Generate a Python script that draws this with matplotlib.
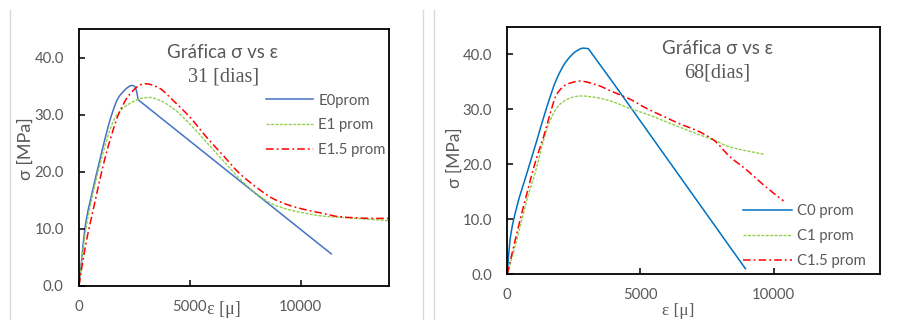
import numpy as np
import matplotlib
matplotlib.use("Agg")
import matplotlib.pyplot as plt
from matplotlib.lines import Line2D
from matplotlib.path import Path
from matplotlib.patches import PathPatch

W, H = 899, 320
DPI = 100

# ---- 31-day series (strain in micro-strain, stress in MPa) ----
e0_x = [0, 120, 269, 644, 943, 1168, 1467, 1766, 2066, 2250, 2365, 2450, 2515, 2600, 2665, 11400]
e0_y = [0, 4.5, 10.1, 17.2, 22.1, 25.7, 29.9, 32.9, 34.3, 34.9, 35.1, 35.05, 34.9, 34.0, 32.6, 5.5]
e0_breaks = [14]

e1_x = [0, 269, 719, 1018, 1317, 1617, 2066, 2515, 2740, 3190, 3639, 4237, 4987, 5736, 6484,
        7233, 7982, 8731, 9479, 10228, 10975, 11725, 12475, 13222, 13970]
e1_y = [0, 8.9, 17.7, 22.3, 26.4, 29.4, 31.4, 32.4, 32.8, 33.0, 32.5, 31.1, 28.4, 25.2, 22.0,
        18.8, 16.2, 14.3, 13.3, 12.7, 12.2, 12.0, 11.8, 11.6, 11.4]

e15_x = [0, 269, 719, 1168, 1467, 1766, 2216, 2515, 2740, 3039, 3190, 3639, 4237, 4987, 5736, 6484,
         7233, 7982, 8731, 9479, 10228, 10975, 11725, 12475, 13222, 13970]
e15_y = [0, 6.5, 14.7, 22.3, 26.4, 29.9, 33.2, 34.5, 35.2, 35.4, 35.3, 34.6, 32.5, 29.6, 26.1, 22.9,
         19.7, 17.3, 15.3, 14.1, 13.3, 12.7, 12.1, 11.9, 11.8, 11.8]

# ---- 68-day series ----
c0_x = [0, 100, 351, 727, 1103, 1479, 1855, 2231, 2607, 2850, 3045, 4049, 8962]
c0_y = [0, 6.1, 12.1, 18.2, 24.2, 30.3, 35.5, 38.8, 40.6, 41.1, 41.0, 34.3, 0.85]
c0_breaks = [10, 11]

c1_x = [0, 351, 727, 1103, 1353, 1604, 1980, 2481, 2733, 3360, 3985, 4613, 5241, 5865, 6492,
        7120, 7744, 8372, 9000, 9624]
c1_y = [0, 6.1, 13.3, 19.4, 24.2, 27.9, 30.9, 32.2, 32.4, 32.1, 31.3, 30.1, 29.1, 27.9, 26.7,
        25.5, 24.4, 23.1, 22.4, 21.8]

c15_x = [0, 351, 727, 1103, 1353, 1604, 1855, 2231, 2733, 3360, 3985, 4613, 5241, 5865, 6492,
         7120, 7744, 8372, 9000, 9624, 10376]
c15_y = [0, 7.3, 14.5, 21.2, 24.8, 29.1, 32.7, 34.5, 35.1, 34.4, 33.1, 31.8, 30.1, 28.7, 27.3,
         26.1, 24.4, 21.3, 18.9, 16.2, 13.3]

x_ticks = [0, 5000, 10000]
y_ticks = [0, 10, 20, 30, 40]
y_tick_labels = ["0.0", "10.0", "20.0", "30.0", "40.0"]
x_lim = (0, 14000)
y_lim = (0, 45)

GRAY = "#595959"
SANS = ["Lato", "DejaVu Sans"]
SERIF = ["Liberation Serif", "DejaVu Serif"]
GREEN = "#92D050"
RED = "#FF0000"
GREEN_DASH = (2.2, 1.0)
RED_DASH = (5, 2, 1.2, 2)

plt.rcParams["font.family"] = SANS

fig = plt.figure(figsize=(W / DPI, H / DPI), dpi=DPI)


def fx(px):
    return px / W


def fy(py):
    return 1 - py / H


def pchip_slopes(x, y):
    """Shape-preserving slopes (Fritsch-Carlson) for a monotone-x piece."""
    n = len(x)
    h = np.diff(x)
    d = np.diff(y) / h
    if n == 2:
        return np.array([d[0], d[0]])
    m = np.zeros(n)
    for k in range(1, n - 1):
        if d[k - 1] * d[k] <= 0:
            m[k] = 0.0
        else:
            w1 = 2 * h[k] + h[k - 1]
            w2 = h[k] + 2 * h[k - 1]
            m[k] = (w1 + w2) / (w1 / d[k - 1] + w2 / d[k])
    m[0] = d[0]
    m[-1] = d[-1]
    return m


def smooth_line(ax, xs, ys, breaks=(), color="k", lw=1.0, dashes=None):
    """Draw a smoothed line (cubic Bezier between the data points); tangents
    are not carried across the indices listed in `breaks`."""
    xs = np.asarray(xs, float)
    ys = np.asarray(ys, float)
    cuts = [0] + list(breaks) + [len(xs) - 1]
    verts = [(xs[0], ys[0])]
    codes = [Path.MOVETO]
    for a, b in zip(cuts[:-1], cuts[1:]):
        px, py = xs[a:b + 1], ys[a:b + 1]
        m = pchip_slopes(px, py)
        for i in range(len(px) - 1):
            hh = (px[i + 1] - px[i]) / 3.0
            verts += [(px[i] + hh, py[i] + m[i] * hh),
                      (px[i + 1] - hh, py[i + 1] - m[i + 1] * hh),
                      (px[i + 1], py[i + 1])]
            codes += [Path.CURVE4] * 3
    patch = PathPatch(Path(verts, codes), fill=False, edgecolor=color, lw=lw,
                      joinstyle="round", capstyle="butt")
    if dashes is not None:
        patch.set_linestyle((0, dashes))
    ax.add_patch(patch)
    return Line2D([], [], color=color, lw=lw, dashes=dashes if dashes else (None, None))


def make_axes(left, top, right, bottom, ypad, xpad):
    ax = fig.add_axes([fx(left), fy(bottom), fx(right - left), (bottom - top) / H])
    ax.set_xlim(*x_lim)
    ax.set_ylim(*y_lim)
    ax.set_xticks(x_ticks)
    ax.set_xticklabels([str(v) for v in x_ticks])
    ax.set_yticks(y_ticks)
    ax.set_yticklabels(y_tick_labels)
    for s in ax.spines.values():
        s.set_linewidth(1.3)
        s.set_color("black")
    ax.tick_params(axis="both", direction="in", length=4, width=1.1, color="black",
                   labelsize=10.7, labelcolor=GRAY)
    ax.tick_params(axis="y", pad=ypad)
    ax.tick_params(axis="x", pad=xpad)
    return ax


def legend(ax, handles, labels, left_px, top_px, hl):
    ax.legend(handles, labels, loc="upper left", bbox_to_anchor=(fx(left_px), fy(top_px)),
              bbox_transform=fig.transFigure, frameon=False, fontsize=10.7,
              labelcolor=GRAY, handlelength=hl, handletextpad=0.38,
              labelspacing=0.74, borderpad=0, borderaxespad=0)


# card outlines
for xline in (10, 423, 434):
    fig.add_artist(Line2D([fx(xline), fx(xline)], [fy(10), 0], color="#d9d9d9", lw=1.0))

# ---- left panel ----
ax1 = make_axes(79, 29, 389.5, 285.7, ypad=11, xpad=10)
h0 = smooth_line(ax1, e0_x, e0_y, e0_breaks, color="#4472C4", lw=1.1)
h1 = smooth_line(ax1, e1_x, e1_y, color=GREEN, lw=1.0, dashes=GREEN_DASH)
h2 = smooth_line(ax1, e15_x, e15_y, color=RED, lw=1.1, dashes=RED_DASH)
legend(ax1, [h0, h1, h2], ["E0prom", "E1 prom", "E1.5 prom"], 266, 93.5, 3.15)

fig.text(fx(223), fy(52), "Gráfica σ vs ε", ha="center", va="center", fontsize=13.5,
         color=GRAY, family=SANS)
fig.text(fx(224), fy(77), "31 [dias]", ha="center", va="center", fontsize=14.5,
         color=GRAY, family=SERIF)
fig.text(fx(26), fy(149), "σ [MPa]", ha="center", va="center", rotation=90,
         fontsize=13, color=GRAY, family=SANS)
fig.text(fx(207), fy(310), "ε [μ]", ha="left", va="center", fontsize=13,
         color=GRAY, family=SERIF)

# ---- right panel ----
ax2 = make_axes(507.3, 26.7, 880, 274, ypad=11, xpad=10)
g0 = smooth_line(ax2, c0_x, c0_y, c0_breaks, color="#0070C0", lw=1.1)
g1 = smooth_line(ax2, c1_x, c1_y, color=GREEN, lw=1.0, dashes=GREEN_DASH)
g2 = smooth_line(ax2, c15_x, c15_y, color=RED, lw=1.1, dashes=RED_DASH)
legend(ax2, [g0, g1, g2], ["C0 prom", "C1 prom", "C1.5 prom"], 743.3, 204.5, 3.25)

fig.text(fx(717.5), fy(48), "Gráfica σ vs ε", ha="center", va="center", fontsize=13.5,
         color=GRAY, family=SANS)
fig.text(fx(717.5), fy(73), "68[dias]", ha="center", va="center", fontsize=14.5,
         color=GRAY, family=SERIF)
fig.text(fx(455), fy(158), "σ [MPa]", ha="center", va="center", rotation=90,
         fontsize=12.5, color=GRAY, family=SANS)
fig.text(fx(678), fy(311), "ε [μ]", ha="center", va="center", fontsize=12.5,
         color=GRAY, family=SERIF)

fig.savefig("out.png", dpi=DPI)
